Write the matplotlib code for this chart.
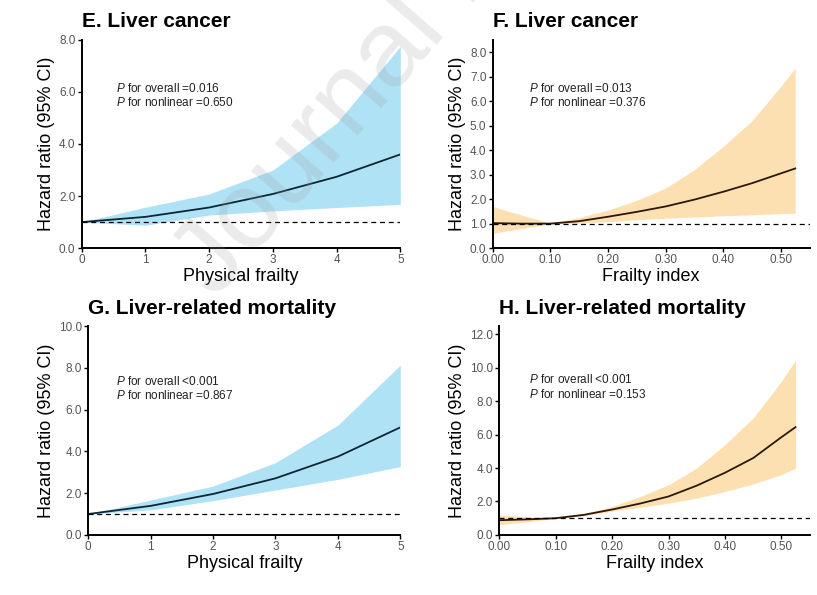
import matplotlib.pyplot as plt

plt.rcParams['font.family'] = ['Liberation Sans', 'DejaVu Sans']
plt.rcParams['mathtext.fontset'] = 'custom'
plt.rcParams['mathtext.it'] = 'Liberation Sans:italic'
plt.rcParams['mathtext.rm'] = 'Liberation Sans'

# Panel E / G: physical frailty (0-5)
pf_x = [0, 1, 2, 3, 4, 5]
e_hr = [1.0, 1.2, 1.56, 2.08, 2.74, 3.6]
e_upper = [1.0, 1.57, 2.08, 3.0, 4.8, 7.75]
e_lower = [1.0, 0.88, 1.27, 1.43, 1.56, 1.68]

g_hr = [1.0, 1.39, 1.96, 2.71, 3.75, 5.15]
g_upper = [1.0, 1.67, 2.34, 3.46, 5.26, 8.13]
g_lower = [1.0, 1.2, 1.64, 2.15, 2.66, 3.27]

# Panel F / H: frailty index (0-0.525)
fi_x = [0, 0.05, 0.1, 0.15, 0.2, 0.25, 0.3, 0.35, 0.4, 0.45, 0.5, 0.525]
f_hr = [1.02, 1.0, 1.0, 1.1, 1.28, 1.48, 1.7, 1.98, 2.3, 2.65, 3.05, 3.25]
f_upper = [1.7, 1.35, 1.02, 1.25, 1.55, 1.95, 2.45, 3.2, 4.15, 5.2, 6.6, 7.35]
f_lower = [0.6, 0.8, 0.98, 1.02, 1.08, 1.16, 1.22, 1.27, 1.32, 1.36, 1.41, 1.43]

h_hr = [0.88, 0.93, 1.0, 1.2, 1.52, 1.88, 2.3, 2.95, 3.72, 4.6, 5.85, 6.45]
h_upper = [1.2, 1.08, 1.02, 1.28, 1.7, 2.3, 3.0, 4.0, 5.4, 7.0, 9.2, 10.45]
h_lower = [0.62, 0.78, 0.98, 1.14, 1.42, 1.65, 1.9, 2.2, 2.6, 3.05, 3.6, 4.0]

AZUL = '#b0e2f5'
NARANJA = '#fde0b2'

paneles = [
    dict(rect=[0.100, 0.583, 0.390, 0.350], titulo='E. Liver cancer', x=pf_x, hr=e_hr,
         up=e_upper, lo=e_lower, fill=AZUL, linea='#0b2535', xlim=(0, 5),
         xticks=[0, 1, 2, 3, 4, 5], xfmt='{:.0f}', ylim=(0, 8), yticks=[0, 2, 4, 6, 8],
         overall='=0.016', nonlin='=0.650', xlabel='Physical frailty', tx=0.107, ty=0.75),
    dict(rect=[0.603, 0.583, 0.388, 0.350], titulo='F. Liver cancer', x=fi_x, hr=f_hr,
         up=f_upper, lo=f_lower, fill=NARANJA, linea='#2a1808', xlim=(0, 0.55),
         xticks=[0, 0.1, 0.2, 0.3, 0.4, 0.5], xfmt='{:.2f}', ylim=(0, 8.5),
         yticks=[0, 1, 2, 3, 4, 5, 6, 7, 8],
         overall='=0.013', nonlin='=0.376', xlabel='Frailty index', tx=0.114, ty=0.75),
    dict(rect=[0.108, 0.101, 0.382, 0.351], titulo='G. Liver-related mortality', x=pf_x, hr=g_hr,
         up=g_upper, lo=g_lower, fill=AZUL, linea='#0b2535', xlim=(0, 5),
         xticks=[0, 1, 2, 3, 4, 5], xfmt='{:.0f}', ylim=(0, 10), yticks=[0, 2, 4, 6, 8, 10],
         overall='<0.001', nonlin='=0.867', xlabel='Physical frailty', tx=0.09, ty=0.72),
    dict(rect=[0.611, 0.101, 0.380, 0.351], titulo='H. Liver-related mortality', x=fi_x, hr=h_hr,
         up=h_upper, lo=h_lower, fill=NARANJA, linea='#2a1808', xlim=(0, 0.55),
         xticks=[0, 0.1, 0.2, 0.3, 0.4, 0.5], xfmt='{:.2f}', ylim=(0, 12.5),
         yticks=[0, 2, 4, 6, 8, 10, 12],
         overall='<0.001', nonlin='=0.153', xlabel='Frailty index', tx=0.097, ty=0.725),
]

fig = plt.figure(figsize=(8.17, 5.95), dpi=100)

for p in paneles:
    ax = fig.add_axes(p['rect'])
    ax.fill_between(p['x'], p['lo'], p['up'], color=p['fill'], linewidth=0)
    ax.plot(p['x'], p['hr'], color=p['linea'], linewidth=1.3)
    ax.axhline(1.0, color='black', linestyle=(0, (4, 3)), linewidth=0.9)
    ax.set_xlim(*p['xlim'])
    ax.set_ylim(*p['ylim'])
    ax.set_xticks(p['xticks'])
    ax.set_xticklabels([p['xfmt'].format(v) for v in p['xticks']])
    ax.set_yticks(p['yticks'])
    ax.set_yticklabels(['{:.1f}'.format(v) for v in p['yticks']])
    for s in ['top', 'right']:
        ax.spines[s].set_visible(False)
    for s in ['left', 'bottom']:
        ax.spines[s].set_linewidth(1.4)
    ax.tick_params(axis='both', labelsize=8.5, labelcolor='#555555', length=3, width=1, pad=1.5)
    ax.set_xlabel(p['xlabel'], fontsize=13, labelpad=1)
    ax.set_ylabel('Hazard ratio (95% CI)', fontsize=13, labelpad=3)
    ax.set_title(p['titulo'], fontsize=15, fontweight='bold', loc='left', pad=9)
    ax.text(p['tx'], p['ty'], r'$\it{P}$ for overall ' + p['overall'], transform=ax.transAxes,
            fontsize=8.5, color='#222222')
    ax.text(p['tx'], p['ty'] - 0.068, r'$\it{P}$ for nonlinear ' + p['nonlin'], transform=ax.transAxes,
            fontsize=8.5, color='#222222')

# marca de agua
fig.text(215 / 817, 1 - 300 / 595, 'Journal Pre-proof', fontsize=78, color='#9a9a9a', alpha=0.2,
         rotation=49, ha='left', va='baseline', rotation_mode='anchor')

fig.savefig('out.png', dpi=100)
